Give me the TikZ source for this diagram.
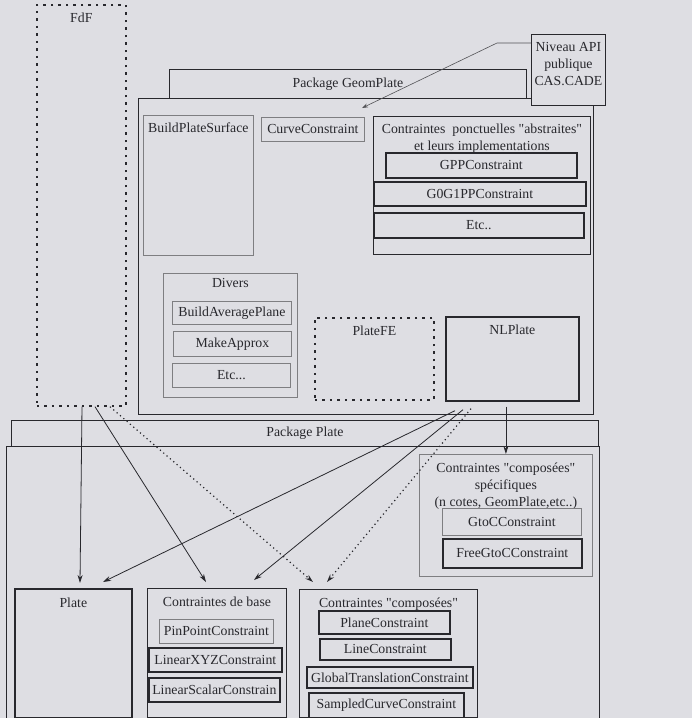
\documentclass[tikz,border=0pt]{standalone}
\usepackage{fontspec}
\setmainfont{Liberation Serif}[Ligatures=TeXOff]
\usetikzlibrary{arrows.meta, positioning}
\definecolor{paper}{RGB}{222,222,227}
\definecolor{ink}{RGB}{40,40,45}
\newcommand{\boxfont}{\fontsize{13.8}{17}\selectfont}

\begin{document}
\begin{tikzpicture}[
    x=1pt, y=-1pt,
    box/.style={rectangle, draw=ink, line width=0.9pt, anchor=north west, inner sep=0pt, font=\boxfont, text=ink},
    pale/.style={box, draw=ink!60, line width=0.8pt},
    heavy/.style={box, line width=1.7pt},
    dashbox/.style={box, line width=1.7pt, dash pattern=on 2.5pt off 5pt},
    title/.style={inner sep=0pt, font=\boxfont, text=ink, align=center},
    arrow/.style={-{Stealth[length=8pt, width=5pt]}, line width=0.8pt, draw=ink},
    dotarrow/.style={arrow, line width=1.2pt, dash pattern=on 1.2pt off 3.2pt},
    apiarrow/.style={-{Stealth[length=6pt, width=4pt]}, line width=0.6pt, draw=ink!80}
]
\path[use as bounding box, fill=paper] (0,0) rectangle (692,718);

% Package GeomPlate
\node[box, minimum width=357pt, minimum height=29pt] (geomtab) at (169,69) {Package GeomPlate};
\node[box, minimum width=455pt, minimum height=316pt] (geom) at (138,98) {};
\node[dashbox, minimum width=89pt, minimum height=401pt] (fdf) at (36,4) {};
\node[title, below=8.3pt of fdf.north] (fdfT) {FdF};
\node[box, fill=paper, minimum width=74pt, minimum height=71pt] (api) at (531,34) {};
\node[title, below=8.3pt of api.north] (apiT) {Niveau API\\publique\\CAS.CADE};

\node[pale, minimum width=110pt, minimum height=140pt] (bps) at (143,115) {};
\node[title, below=7.3pt of bps.north] (bpsT) {BuildPlateSurface};
\node[pale, minimum width=103pt, minimum height=24pt] (curve) at (261,117) {CurveConstraint};
\node[box, minimum width=217pt, minimum height=138pt] (ponct) at (373,116) {};
\node[title, below=7.3pt of ponct.north] (ponctT) {Contraintes\ \ ponctuelles "abstraites"\\et leurs implementations};
\node[heavy, minimum width=191pt, minimum height=25pt] (gpp) at (385,152) {GPPConstraint};
\node[heavy, minimum width=212pt, minimum height=24pt] (g0g1) at (373,181) {G0G1PPConstraint};
\node[heavy, minimum width=210pt, minimum height=25pt] (etcp) at (373,212) {Etc..};

\node[pale, minimum width=134pt, minimum height=124pt] (divers) at (163,273) {};
\node[title, below=5.3pt of divers.north] (diversT) {Divers};
\node[pale, minimum width=119pt, minimum height=23pt] (avgplane) at (172,301) {BuildAveragePlane};
\node[pale, minimum width=118pt, minimum height=25pt] (approx) at (173,331) {MakeApprox};
\node[pale, minimum width=118pt, minimum height=24pt] (etcd) at (172,363) {Etc...};

\node[dashbox, minimum width=119pt, minimum height=82pt] (platefe) at (314,317) {};
\node[title, below=8.3pt of platefe.north] (platefeT) {PlateFE};
\node[heavy, minimum width=133pt, minimum height=84pt] (nlplate) at (445,316) {};
\node[title, below=8.3pt of nlplate.north] (nlplateT) {NLPlate};

% Package Plate
\node[box, minimum width=587pt, minimum height=26pt] (platetab) at (11,420) {Package Plate};
\node[box, minimum width=593pt, minimum height=300pt] (platepkg) at (6,446) {};

\node[pale, minimum width=173pt, minimum height=122pt] (spec) at (419,454) {};
\node[title, below=8.3pt of spec.north] (specT) {Contraintes "composées"\\spécifiques\\(n cotes, GeomPlate,etc..)};
\node[pale, minimum width=139pt, minimum height=27pt] (gtoc) at (442,508) {GtoCConstraint};
\node[heavy, minimum width=139pt, minimum height=29pt] (freegtoc) at (442,538) {FreeGtoCConstraint};

\node[heavy, minimum width=117pt, minimum height=129pt] (plate) at (14,588) {};
\node[title, below=9.3pt of plate.north] (plateT) {Plate};

\node[box, minimum width=139pt, minimum height=129pt] (base) at (147,588) {};
\node[title, below=8.3pt of base.north] (baseT) {Contraintes de base};
\node[pale, minimum width=114pt, minimum height=24pt] (pinpoint) at (159,619) {PinPointConstraint};
\node[heavy, minimum width=133pt, minimum height=24pt] (linxyz) at (148,647) {LinearXYZConstraint};
\node[heavy, minimum width=131pt, minimum height=24pt] (linscal) at (148,677) {LinearScalarConstrain};

\node[box, minimum width=178pt, minimum height=128pt] (compo) at (299,589) {};
\node[title, below=8.3pt of compo.north] (compoT) {Contraintes "composées"};
\node[heavy, minimum width=131pt, minimum height=23pt] (planec) at (318,610) {PlaneConstraint};
\node[heavy, minimum width=131pt, minimum height=21pt] (linec) at (319,638) {LineConstraint};
\node[heavy, minimum width=166pt, minimum height=21pt] (globtr) at (306,666) {GlobalTranslationConstraint};
\node[heavy, minimum width=155pt, minimum height=25pt] (sampled) at (308,692) {SampledCurveConstraint};

% Arrows
\draw[apiarrow] ([yshift=-9pt]api.north west) -- ++(-34,0) -- ([xshift=224pt, yshift=-10pt]geom.north west);
\draw[arrow] ([xshift=46pt]fdf.south west) -- ([xshift=66pt, yshift=5pt]plate.north west);
\draw[arrow] ([xshift=59pt]fdf.south west) -- ([xshift=59pt, yshift=6pt]base.north west);
\draw[dotarrow] ([xshift=74pt]fdf.south west) -- ([xshift=14pt, yshift=7pt]compo.north west);
\draw[arrow] ([xshift=10pt, yshift=-9pt]nlplate.south west) -- ([xshift=89pt, yshift=6pt]plate.north west);
\draw[arrow] ([xshift=18pt, yshift=-8pt]nlplate.south west) -- ([xshift=107pt, yshift=8pt]base.north west);
\draw[dotarrow] ([xshift=26pt, yshift=-7pt]nlplate.south west) -- ([xshift=28pt, yshift=7pt]compo.north west);
\draw[arrow] ([yshift=-5pt]nlplate.south -| spec.north) -- (spec.north);
\end{tikzpicture}
\end{document}
